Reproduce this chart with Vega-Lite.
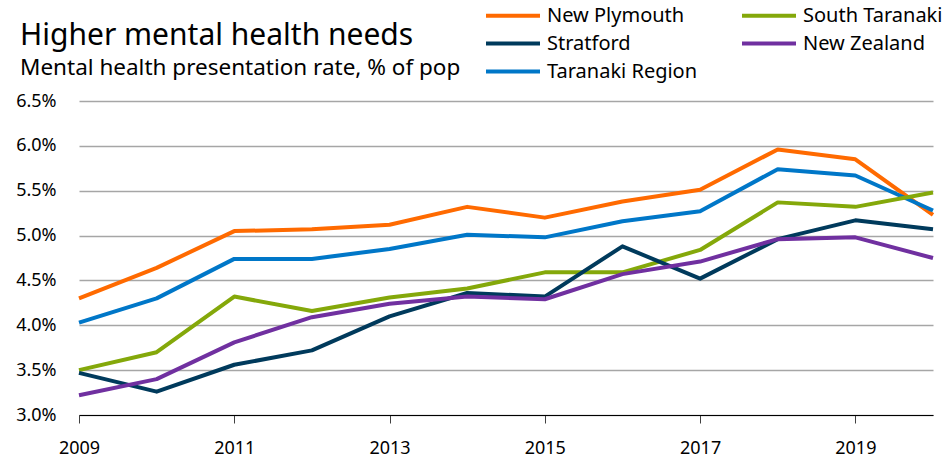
{
  "$schema": "https://vega.github.io/schema/vega-lite/v6.json",
  "width": 854,
  "height": 314,
  "autosize": "none",
  "padding": {"left": 79, "top": 101, "right": 9, "bottom": 61},
  "background": "white",
  "config": {"font": "Noto Sans", "view": {"stroke": null}},
  "title": {
    "text": "Higher mental health needs",
    "subtitle": "Mental health presentation rate, % of pop",
    "anchor": "start",
    "frame": "group",
    "dx": -59,
    "dy": 103,
    "offset": 24,
    "fontSize": 30,
    "fontWeight": "normal",
    "color": "#000000",
    "subtitleFontSize": 22.5,
    "subtitleColor": "#000000",
    "subtitlePadding": 6
  },
  "data": {
    "values": [
      {"year": 2009, "area": "New Plymouth", "rate": 4.30},
      {"year": 2010, "area": "New Plymouth", "rate": 4.64},
      {"year": 2011, "area": "New Plymouth", "rate": 5.05},
      {"year": 2012, "area": "New Plymouth", "rate": 5.07},
      {"year": 2013, "area": "New Plymouth", "rate": 5.12},
      {"year": 2014, "area": "New Plymouth", "rate": 5.32},
      {"year": 2015, "area": "New Plymouth", "rate": 5.20},
      {"year": 2016, "area": "New Plymouth", "rate": 5.38},
      {"year": 2017, "area": "New Plymouth", "rate": 5.51},
      {"year": 2018, "area": "New Plymouth", "rate": 5.96},
      {"year": 2019, "area": "New Plymouth", "rate": 5.85},
      {"year": 2020, "area": "New Plymouth", "rate": 5.23},
      {"year": 2009, "area": "Taranaki Region", "rate": 4.03},
      {"year": 2010, "area": "Taranaki Region", "rate": 4.30},
      {"year": 2011, "area": "Taranaki Region", "rate": 4.74},
      {"year": 2012, "area": "Taranaki Region", "rate": 4.74},
      {"year": 2013, "area": "Taranaki Region", "rate": 4.85},
      {"year": 2014, "area": "Taranaki Region", "rate": 5.01},
      {"year": 2015, "area": "Taranaki Region", "rate": 4.98},
      {"year": 2016, "area": "Taranaki Region", "rate": 5.16},
      {"year": 2017, "area": "Taranaki Region", "rate": 5.27},
      {"year": 2018, "area": "Taranaki Region", "rate": 5.74},
      {"year": 2019, "area": "Taranaki Region", "rate": 5.67},
      {"year": 2020, "area": "Taranaki Region", "rate": 5.28},
      {"year": 2009, "area": "South Taranaki", "rate": 3.50},
      {"year": 2010, "area": "South Taranaki", "rate": 3.70},
      {"year": 2011, "area": "South Taranaki", "rate": 4.32},
      {"year": 2012, "area": "South Taranaki", "rate": 4.16},
      {"year": 2013, "area": "South Taranaki", "rate": 4.31},
      {"year": 2014, "area": "South Taranaki", "rate": 4.41},
      {"year": 2015, "area": "South Taranaki", "rate": 4.59},
      {"year": 2016, "area": "South Taranaki", "rate": 4.59},
      {"year": 2017, "area": "South Taranaki", "rate": 4.84},
      {"year": 2018, "area": "South Taranaki", "rate": 5.37},
      {"year": 2019, "area": "South Taranaki", "rate": 5.32},
      {"year": 2020, "area": "South Taranaki", "rate": 5.48},
      {"year": 2009, "area": "Stratford", "rate": 3.47},
      {"year": 2010, "area": "Stratford", "rate": 3.26},
      {"year": 2011, "area": "Stratford", "rate": 3.56},
      {"year": 2012, "area": "Stratford", "rate": 3.72},
      {"year": 2013, "area": "Stratford", "rate": 4.10},
      {"year": 2014, "area": "Stratford", "rate": 4.36},
      {"year": 2015, "area": "Stratford", "rate": 4.32},
      {"year": 2016, "area": "Stratford", "rate": 4.88},
      {"year": 2017, "area": "Stratford", "rate": 4.52},
      {"year": 2018, "area": "Stratford", "rate": 4.96},
      {"year": 2019, "area": "Stratford", "rate": 5.17},
      {"year": 2020, "area": "Stratford", "rate": 5.07},
      {"year": 2009, "area": "New Zealand", "rate": 3.22},
      {"year": 2010, "area": "New Zealand", "rate": 3.40},
      {"year": 2011, "area": "New Zealand", "rate": 3.81},
      {"year": 2012, "area": "New Zealand", "rate": 4.09},
      {"year": 2013, "area": "New Zealand", "rate": 4.24},
      {"year": 2014, "area": "New Zealand", "rate": 4.32},
      {"year": 2015, "area": "New Zealand", "rate": 4.29},
      {"year": 2016, "area": "New Zealand", "rate": 4.57},
      {"year": 2017, "area": "New Zealand", "rate": 4.71},
      {"year": 2018, "area": "New Zealand", "rate": 4.96},
      {"year": 2019, "area": "New Zealand", "rate": 4.98},
      {"year": 2020, "area": "New Zealand", "rate": 4.75}
    ]
  },
  "mark": {"type": "line", "strokeWidth": 4, "strokeJoin": "round", "strokeCap": "butt"},
  "encoding": {
    "x": {
      "field": "year",
      "type": "quantitative",
      "scale": {"domain": [2009, 2020], "nice": false, "zero": false},
      "axis": {
        "title": null,
        "values": [2009, 2011, 2013, 2015, 2017, 2019],
        "format": "d",
        "grid": false,
        "labelFlush": false,
        "domainColor": "#000000",
        "domainWidth": 1,
        "tickColor": "#404040",
        "tickSize": 8,
        "labelFontSize": 18,
        "labelColor": "#000000",
        "labelPadding": 16
      }
    },
    "y": {
      "field": "rate",
      "type": "quantitative",
      "scale": {"domain": [3.0, 6.5], "nice": false, "zero": false},
      "axis": {
        "title": null,
        "values": [3.0, 3.5, 4.0, 4.5, 5.0, 5.5, 6.0, 6.5],
        "labelExpr": "format(datum.value, '.1f') + '%'",
        "domain": false,
        "ticks": false,
        "grid": true,
        "gridColor": "#A6A6A6",
        "gridWidth": 1.5,
        "labelFontSize": 18,
        "labelColor": "#000000",
        "labelPadding": 23
      }
    },
    "color": {
      "field": "area",
      "type": "nominal",
      "scale": {
        "domain": ["New Plymouth", "Stratford", "Taranaki Region", "South Taranaki", "New Zealand"],
        "range": ["#FF6A00", "#003A5C", "#0077C8", "#84A80A", "#7030A0"]
      },
      "legend": {
        "title": null,
        "orient": "none",
        "legendX": 405,
        "legendY": -101,
        "columns": 2,
        "columnPadding": 36,
        "rowPadding": 2,
        "symbolType": "M-1,0H3",
        "symbolSize": 729,
        "symbolStrokeWidth": 4,
        "labelFontSize": 20,
        "labelColor": "#000000",
        "labelOffset": 32,
        "labelLimit": 300
      }
    }
  }
}
